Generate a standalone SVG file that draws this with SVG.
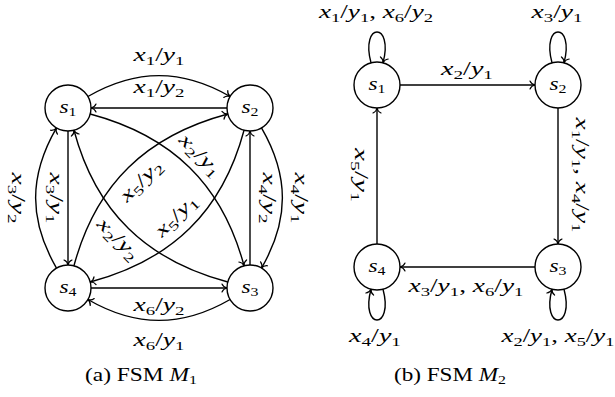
<svg xmlns="http://www.w3.org/2000/svg" width="615" height="397" viewBox="0 0 615 397">
<style>
.lbl{font-family:"Liberation Serif","Times New Roman",serif;font-size:19px;fill:#000}
.it{font-style:italic}
.sub{font-size:13px}
.node circle{fill:#fff;stroke:#000;stroke-width:1.4}
.edge path{fill:none;stroke:#000;stroke-width:1.4;marker-end:url(#arr)}
</style>
<defs>
<marker id="arr" viewBox="-6 -5 10 10" markerWidth="10" markerHeight="10" refX="0" refY="0" orient="auto" markerUnits="userSpaceOnUse" style="overflow:visible">
<path d="M-5,-4 C-4,-1.5 -1.5,-0.3 0,0 C-1.5,0.3 -4,1.5 -5,4" fill="none" stroke="#000" stroke-width="1.2" stroke-linecap="round"/>
</marker>
</defs>

<g id="connectors" class="edge">
<!-- M1 -->
<path d="M87.9,96.5 C136.1,68.65 181.9,68.65 230.1,96.5"/>
<path d="M227,108 L91,108"/>
<path d="M56.5,268.1 C28.65,219.9 28.65,176.1 56.5,127.9"/>
<path d="M68,131 L68,265"/>
<path d="M261.5,127.9 C289.35,176.1 289.35,219.9 261.5,268.1"/>
<path d="M250,265 L250,131"/>
<path d="M230.1,299.5 C181.9,327.35 136.1,327.35 87.9,299.5"/>
<path d="M91,288 L227,288"/>
<path d="M90.2,114 C171.9,135.9 222.1,184.1 244.05,265.8"/>
<path d="M227.8,282 C146.1,260.1 95.9,211.9 73.95,130.2"/>
<path d="M73.95,265.8 C95.9,184.1 146.1,135.9 227.8,114"/>
<path d="M244.05,130.2 C222.1,211.9 171.9,260.1 90.2,282"/>
<!-- M2 -->
<path d="M400,85 L535,85"/>
<path d="M558,108 L558,244"/>
<path d="M535,267 L400,267"/>
<path d="M377,244 L377,108"/>
<path d="M371,62.8 C360,21.8 394,21.8 383,62.8"/>
<path d="M552,62.8 C541,21.8 575,21.8 564,62.8"/>
<path d="M383,289.2 C394,330.2 360,330.2 371,289.2"/>
<path d="M564,289.2 C575,330.2 541,330.2 552,289.2"/>
</g>

<g id="edge-labels" class="lbl">
<text x="159" y="61" text-anchor="middle" textLength="51" lengthAdjust="spacingAndGlyphs"><tspan class="it">x</tspan><tspan class="sub" dy="4">1</tspan><tspan dy="-4">/</tspan><tspan class="it">y</tspan><tspan class="sub" dy="4">1</tspan></text>
<text x="159" y="93" text-anchor="middle" textLength="51" lengthAdjust="spacingAndGlyphs"><tspan class="it">x</tspan><tspan class="sub" dy="4">1</tspan><tspan dy="-4">/</tspan><tspan class="it">y</tspan><tspan class="sub" dy="4">2</tspan></text>
<text x="159" y="311" text-anchor="middle" textLength="51" lengthAdjust="spacingAndGlyphs"><tspan class="it">x</tspan><tspan class="sub" dy="4">6</tspan><tspan dy="-4">/</tspan><tspan class="it">y</tspan><tspan class="sub" dy="4">2</tspan></text>
<text x="159" y="346" text-anchor="middle" textLength="51" lengthAdjust="spacingAndGlyphs"><tspan class="it">x</tspan><tspan class="sub" dy="4">6</tspan><tspan dy="-4">/</tspan><tspan class="it">y</tspan><tspan class="sub" dy="4">1</tspan></text>
<text transform="translate(12,198) rotate(90)" x="0" y="0" text-anchor="middle" textLength="51" lengthAdjust="spacingAndGlyphs"><tspan class="it">x</tspan><tspan class="sub" dy="4">3</tspan><tspan dy="-4">/</tspan><tspan class="it">y</tspan><tspan class="sub" dy="4">2</tspan></text>
<text transform="translate(49.5,198) rotate(90)" x="0" y="0" text-anchor="middle" textLength="51" lengthAdjust="spacingAndGlyphs"><tspan class="it">x</tspan><tspan class="sub" dy="4">3</tspan><tspan dy="-4">/</tspan><tspan class="it">y</tspan><tspan class="sub" dy="4">1</tspan></text>
<text transform="translate(263,198) rotate(90)" x="0" y="0" text-anchor="middle" textLength="51" lengthAdjust="spacingAndGlyphs"><tspan class="it">x</tspan><tspan class="sub" dy="4">4</tspan><tspan dy="-4">/</tspan><tspan class="it">y</tspan><tspan class="sub" dy="4">2</tspan></text>
<text transform="translate(294.5,198) rotate(90)" x="0" y="0" text-anchor="middle" textLength="51" lengthAdjust="spacingAndGlyphs"><tspan class="it">x</tspan><tspan class="sub" dy="4">4</tspan><tspan dy="-4">/</tspan><tspan class="it">y</tspan><tspan class="sub" dy="4">1</tspan></text>
<text transform="translate(196,159) rotate(45)" x="0" y="0" text-anchor="middle" textLength="51" lengthAdjust="spacingAndGlyphs"><tspan class="it">x</tspan><tspan class="sub" dy="4">2</tspan><tspan dy="-4">/</tspan><tspan class="it">y</tspan><tspan class="sub" dy="4">1</tspan></text>
<text transform="translate(114,243) rotate(45)" x="0" y="0" text-anchor="middle" textLength="51" lengthAdjust="spacingAndGlyphs"><tspan class="it">x</tspan><tspan class="sub" dy="4">2</tspan><tspan dy="-4">/</tspan><tspan class="it">y</tspan><tspan class="sub" dy="4">2</tspan></text>
<text transform="translate(145,185) rotate(-45)" x="0" y="0" text-anchor="middle" textLength="51" lengthAdjust="spacingAndGlyphs"><tspan class="it">x</tspan><tspan class="sub" dy="4">5</tspan><tspan dy="-4">/</tspan><tspan class="it">y</tspan><tspan class="sub" dy="4">2</tspan></text>
<text transform="translate(180,220) rotate(-45)" x="0" y="0" text-anchor="middle" textLength="51" lengthAdjust="spacingAndGlyphs"><tspan class="it">x</tspan><tspan class="sub" dy="4">5</tspan><tspan dy="-4">/</tspan><tspan class="it">y</tspan><tspan class="sub" dy="4">1</tspan></text>

<text x="376" y="18" text-anchor="middle" textLength="114" lengthAdjust="spacingAndGlyphs"><tspan class="it">x</tspan><tspan class="sub" dy="4">1</tspan><tspan dy="-4">/</tspan><tspan class="it">y</tspan><tspan class="sub" dy="4">1</tspan><tspan dy="-4">, </tspan><tspan class="it">x</tspan><tspan class="sub" dy="4">6</tspan><tspan dy="-4">/</tspan><tspan class="it">y</tspan><tspan class="sub" dy="4">2</tspan></text>
<text x="557" y="18" text-anchor="middle" textLength="51" lengthAdjust="spacingAndGlyphs"><tspan class="it">x</tspan><tspan class="sub" dy="4">3</tspan><tspan dy="-4">/</tspan><tspan class="it">y</tspan><tspan class="sub" dy="4">1</tspan></text>
<text x="467" y="75" text-anchor="middle" textLength="52" lengthAdjust="spacingAndGlyphs"><tspan class="it">x</tspan><tspan class="sub" dy="4">2</tspan><tspan dy="-4">/</tspan><tspan class="it">y</tspan><tspan class="sub" dy="4">1</tspan></text>
<text transform="translate(576,175) rotate(90)" x="0" y="0" text-anchor="middle" textLength="115" lengthAdjust="spacingAndGlyphs"><tspan class="it">x</tspan><tspan class="sub" dy="4">1</tspan><tspan dy="-4">/</tspan><tspan class="it">y</tspan><tspan class="sub" dy="4">1</tspan><tspan dy="-4">, </tspan><tspan class="it">x</tspan><tspan class="sub" dy="4">4</tspan><tspan dy="-4">/</tspan><tspan class="it">y</tspan><tspan class="sub" dy="4">1</tspan></text>
<text transform="translate(355,175) rotate(90)" x="0" y="0" text-anchor="middle" textLength="54" lengthAdjust="spacingAndGlyphs"><tspan class="it">x</tspan><tspan class="sub" dy="4">5</tspan><tspan dy="-4">/</tspan><tspan class="it">y</tspan><tspan class="sub" dy="4">1</tspan></text>
<text x="466" y="292" text-anchor="middle" textLength="115" lengthAdjust="spacingAndGlyphs"><tspan class="it">x</tspan><tspan class="sub" dy="4">3</tspan><tspan dy="-4">/</tspan><tspan class="it">y</tspan><tspan class="sub" dy="4">1</tspan><tspan dy="-4">, </tspan><tspan class="it">x</tspan><tspan class="sub" dy="4">6</tspan><tspan dy="-4">/</tspan><tspan class="it">y</tspan><tspan class="sub" dy="4">1</tspan></text>
<text x="375" y="342" text-anchor="middle" textLength="52" lengthAdjust="spacingAndGlyphs"><tspan class="it">x</tspan><tspan class="sub" dy="4">4</tspan><tspan dy="-4">/</tspan><tspan class="it">y</tspan><tspan class="sub" dy="4">1</tspan></text>
<text x="558" y="342" text-anchor="middle" textLength="113" lengthAdjust="spacingAndGlyphs"><tspan class="it">x</tspan><tspan class="sub" dy="4">2</tspan><tspan dy="-4">/</tspan><tspan class="it">y</tspan><tspan class="sub" dy="4">1</tspan><tspan dy="-4">, </tspan><tspan class="it">x</tspan><tspan class="sub" dy="4">5</tspan><tspan dy="-4">/</tspan><tspan class="it">y</tspan><tspan class="sub" dy="4">1</tspan></text>
</g>

<g id="m1-s1" class="node"><circle cx="68" cy="108" r="23"/><text class="lbl" x="68" y="112.5" text-anchor="middle" textLength="17" lengthAdjust="spacingAndGlyphs"><tspan class="it">s</tspan><tspan class="sub" dy="3">1</tspan></text></g>
<g id="m1-s2" class="node"><circle cx="250" cy="108" r="23"/><text class="lbl" x="250" y="112.5" text-anchor="middle" textLength="17" lengthAdjust="spacingAndGlyphs"><tspan class="it">s</tspan><tspan class="sub" dy="3">2</tspan></text></g>
<g id="m1-s3" class="node"><circle cx="250" cy="288" r="23"/><text class="lbl" x="250" y="292.5" text-anchor="middle" textLength="17" lengthAdjust="spacingAndGlyphs"><tspan class="it">s</tspan><tspan class="sub" dy="3">3</tspan></text></g>
<g id="m1-s4" class="node"><circle cx="68" cy="288" r="23"/><text class="lbl" x="68" y="292.5" text-anchor="middle" textLength="17" lengthAdjust="spacingAndGlyphs"><tspan class="it">s</tspan><tspan class="sub" dy="3">4</tspan></text></g>

<g id="m2-s1" class="node"><circle cx="377" cy="85" r="23"/><text class="lbl" x="377" y="89.5" text-anchor="middle" textLength="17" lengthAdjust="spacingAndGlyphs"><tspan class="it">s</tspan><tspan class="sub" dy="3">1</tspan></text></g>
<g id="m2-s2" class="node"><circle cx="558" cy="85" r="23"/><text class="lbl" x="558" y="89.5" text-anchor="middle" textLength="17" lengthAdjust="spacingAndGlyphs"><tspan class="it">s</tspan><tspan class="sub" dy="3">2</tspan></text></g>
<g id="m2-s3" class="node"><circle cx="558" cy="267" r="23"/><text class="lbl" x="558" y="271.5" text-anchor="middle" textLength="17" lengthAdjust="spacingAndGlyphs"><tspan class="it">s</tspan><tspan class="sub" dy="3">3</tspan></text></g>
<g id="m2-s4" class="node"><circle cx="377" cy="267" r="23"/><text class="lbl" x="377" y="271.5" text-anchor="middle" textLength="17" lengthAdjust="spacingAndGlyphs"><tspan class="it">s</tspan><tspan class="sub" dy="3">4</tspan></text></g>

<g id="captions" class="lbl">
<text x="141" y="381" text-anchor="middle" textLength="112" lengthAdjust="spacingAndGlyphs">(a) FSM <tspan class="it">M</tspan><tspan class="sub" dy="3">1</tspan></text>
<text x="450" y="381" text-anchor="middle" textLength="112" lengthAdjust="spacingAndGlyphs">(b) FSM <tspan class="it">M</tspan><tspan class="sub" dy="3">2</tspan></text>
</g>
</svg>
